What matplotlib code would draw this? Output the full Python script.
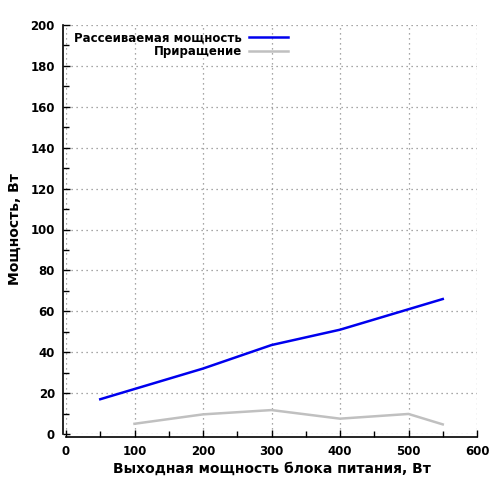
import matplotlib
matplotlib.use('Agg')
import matplotlib.pyplot as plt
from matplotlib.ticker import MultipleLocator

plt.rcParams.update({'font.family': 'DejaVu Sans', 'font.weight': 'bold', 'font.size': 8.5})

x_diss = [50, 100, 200, 300, 400, 500, 550]
y_diss = [17, 22, 32, 43.5, 51, 61, 66]
x_inc = [100, 200, 300, 400, 500, 550]
y_inc = [5, 9.6, 11.7, 7.5, 9.8, 4.7]

fig = plt.figure(figsize=(5, 5), dpi=100)
ax = fig.add_axes([0.132, 0.132, 0.822, 0.818])

ax.plot(x_diss, y_diss, color='#0000ee', linewidth=1.8, label='Рассеиваемая мощность')
ax.plot(x_inc, y_inc, color='#c0c0c0', linewidth=1.8, label='Приращение')

ax.set_xlim(0, 600)
ax.set_ylim(0, 200)
ax.xaxis.set_major_locator(MultipleLocator(100))
ax.xaxis.set_minor_locator(MultipleLocator(50))
ax.yaxis.set_major_locator(MultipleLocator(20))
ax.yaxis.set_minor_locator(MultipleLocator(10))

for s in ['top', 'right']:
    ax.spines[s].set_visible(False)
for s in ['left', 'bottom']:
    ax.spines[s].set_position(('outward', 2))
    ax.spines[s].set_linewidth(1.2)

ax.tick_params(which='both', direction='in', top=False, right=False, width=1, pad=6)
ax.tick_params(which='major', length=5)
ax.tick_params(which='minor', length=4)
ax.grid(True, which='major', color='#8a8a8a', linestyle=(0, (1, 3)), linewidth=0.9)

ax.set_xlabel('Выходная мощность блока питания, Вт', fontsize=10, fontweight='bold', labelpad=3)
ax.set_ylabel('Мощность, Вт', fontsize=10, fontweight='bold', labelpad=6)

ax.legend(loc='upper left', bbox_to_anchor=(0.0, 1.004), frameon=False, markerfirst=False,
          handlelength=3.3, handletextpad=0.6, fontsize=8.5, borderaxespad=0.3, labelspacing=0.05)
leg = ax.get_legend()
for t in leg.get_texts():
    t.set_ha('right')

fig.savefig('out.png', dpi=100)
